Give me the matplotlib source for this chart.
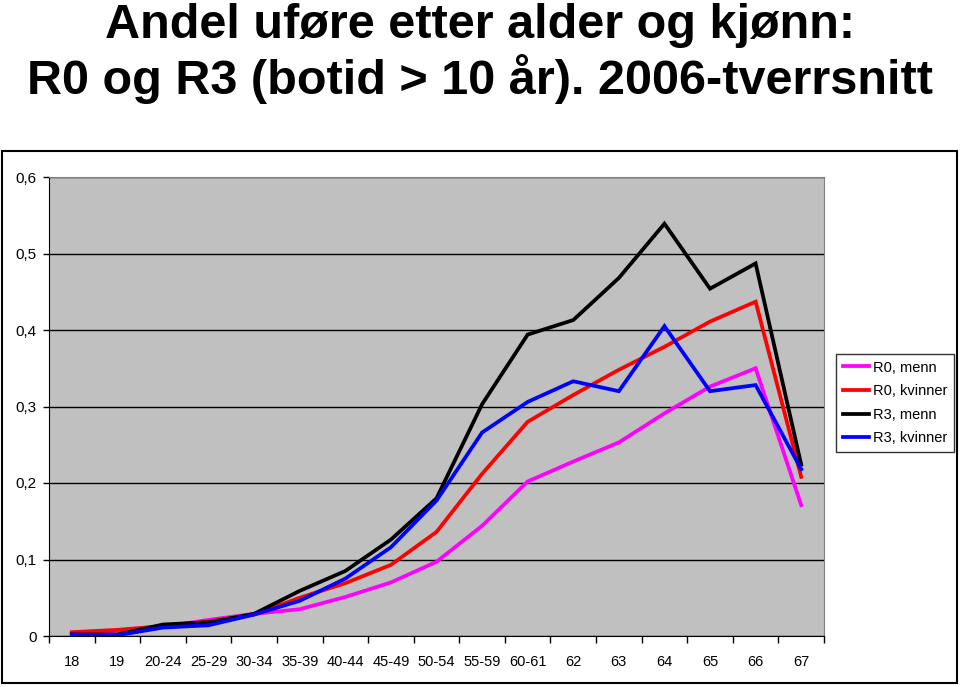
import matplotlib
matplotlib.use('Agg')
import matplotlib.pyplot as plt
from matplotlib.patches import Rectangle
import numpy as np

plt.rcParams['font.family'] = ['Liberation Sans', 'DejaVu Sans']

# Aldersgrupper (kategorier på x-aksen)
alder = ['18', '19', '20-24', '25-29', '30-34', '35-39', '40-44', '45-49',
         '50-54', '55-59', '60-61', '62', '63', '64', '65', '66', '67']

# Andel uføre per serie
r0_menn = [0.003, 0.007, 0.012, 0.021, 0.029, 0.035, 0.051, 0.070, 0.097,
           0.144, 0.202, 0.228, 0.253, 0.291, 0.326, 0.350, 0.171]
r0_kvinner = [0.005, 0.008, 0.013, 0.019, 0.028, 0.050, 0.069, 0.093, 0.136,
              0.212, 0.280, 0.315, 0.348, 0.378, 0.411, 0.437, 0.208]
r3_menn = [0.002, 0.002, 0.015, 0.018, 0.029, 0.059, 0.085, 0.126, 0.180,
           0.303, 0.394, 0.413, 0.468, 0.539, 0.454, 0.487, 0.224]
r3_kvinner = [0.002, 0.001, 0.011, 0.014, 0.028, 0.046, 0.075, 0.116, 0.177,
              0.266, 0.306, 0.333, 0.320, 0.405, 0.320, 0.328, 0.218]

serier = ['R0, menn', 'R0, kvinner', 'R3, menn', 'R3, kvinner']
farger = ['#FF00FF', '#FF0000', '#000000', '#0000FF']

y_ticks = [0, 0.1, 0.2, 0.3, 0.4, 0.5, 0.6]
y_labels = ['0', '0,1', '0,2', '0,3', '0,4', '0,5', '0,6']

fig = plt.figure(figsize=(9.6, 6.87), dpi=100)

# Ramme rundt diagrammet
fig.patches.append(Rectangle((2 / 960, 4 / 687), 955 / 960, 532 / 687,
                             transform=fig.transFigure, fill=False,
                             edgecolor='black', linewidth=1.5))

# Tittel
fig.text(0.5, 1 - 38 / 687, 'Andel uføre etter alder og kjønn:',
         ha='center', va='baseline', fontsize=35, fontweight='bold')
fig.text(0.5, 1 - 94 / 687, 'R0 og R3 (botid > 10 år). 2006-tverrsnitt',
         ha='center', va='baseline', fontsize=35, fontweight='bold')

ax = fig.add_axes([49 / 960, 51 / 687, 775 / 960, 459 / 687])
ax.set_facecolor('#C0C0C0')

x = np.arange(len(alder))
for verdier, navn, farge in zip([r0_menn, r0_kvinner, r3_menn, r3_kvinner],
                                serier, farger):
    ax.plot(x, verdier, color=farge, linewidth=2.7, label=navn,
            solid_joinstyle='miter', zorder=3)

ax.set_xlim(-0.5, len(alder) - 0.5)
ax.set_ylim(0, 0.6)

ax.set_yticks(y_ticks)
ax.set_yticklabels(y_labels, fontsize=11)
ax.tick_params(axis='y', length=4, width=1, pad=5)
ax.yaxis.grid(True, color='black', linewidth=1)
ax.set_axisbelow(True)

ax.set_xticks(np.arange(-0.5, len(alder), 1.0))
ax.set_xticklabels([])
ax.set_xticks(x, minor=True)
ax.set_xticklabels(alder, minor=True, fontsize=10.5)
ax.tick_params(axis='x', which='major', length=5, width=1)
ax.tick_params(axis='x', which='minor', length=0, pad=14)

for side in ['top', 'right']:
    ax.spines[side].set_color('#808080')
for side in ['left', 'bottom']:
    ax.spines[side].set_color('black')

leg = ax.legend(loc='upper left', bbox_to_anchor=(836 / 960, 1 - 354 / 687),
                bbox_transform=fig.transFigure,
                fontsize=10.5, frameon=True, fancybox=False,
                edgecolor='black', handlelength=1.8, handletextpad=0.3,
                labelspacing=0.66, borderpad=0.45, borderaxespad=0)
leg.get_frame().set_linewidth(1)

fig.savefig('out.png', dpi=100)
